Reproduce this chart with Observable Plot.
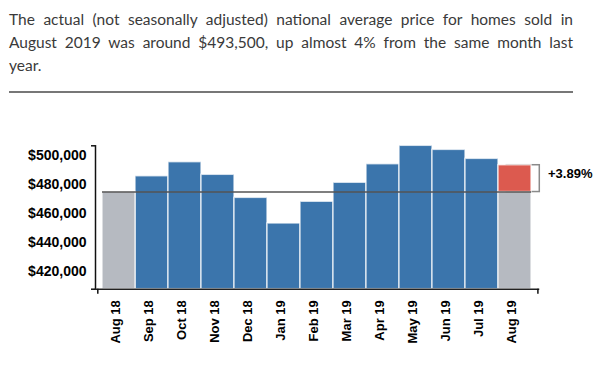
<!DOCTYPE html>
<html>
<head>
<meta charset="utf-8">
<script src="https://cdn.jsdelivr.net/npm/d3@7"></script>
<script src="https://cdn.jsdelivr.net/npm/@observablehq/plot@0.6"></script>
<style>
  html, body { margin: 0; padding: 0; background: #fff; }
  #header { height: 100px; box-sizing: border-box; padding: 8px 0 0 9px; width: 573px; font-family: "Lato", "Noto Sans", sans-serif; font-size: 15.5px; line-height: 23px; color: #3a3a3a; }
  #header .j { text-align: justify; text-align-last: justify; white-space: nowrap; }
  #header hr { border: 0; border-top: 2px solid #777; margin: 14px 0 0 0; }
  #chart svg { display: block; }
</style>
</head>
<body>
<div id="header">
  <div class="j">The actual (not seasonally adjusted) national average price for homes sold in</div>
  <div class="j">August 2019 was around $493,500, up almost 4% from the same month last</div>
  <div>year.</div>
  <hr>
</div>
<div id="chart"></div>
<script>
const months = ["Aug 18", "Sep 18", "Oct 18", "Nov 18", "Dec 18", "Jan 19", "Feb 19", "Mar 19", "Apr 19", "May 19", "Jun 19", "Jul 19", "Aug 19"];
const prices = [475000, 485900, 495600, 486900, 471000, 453300, 468300, 481400, 494200, 506900, 504100, 497900, 493500];
const yTicks = [420000, 440000, 460000, 480000, 500000];

const data = months.map((m, i) => ({month: m, price: prices[i], i}));
const base = prices[0];
const first = data[0];
const last = data[data.length - 1];
const middle = data.slice(1, -1);
const yMin = d3.min(prices) * 0.9;
const yMax = d3.max(prices);
const change = ((last.price / base - 1) * 100).toFixed(2);

const blue = "#3b75ac";
const gray = "#b6bac1";
const red = "#dc5a4f";

const chart = Plot.plot({
  width: 600,
  height: 269,
  marginTop: 45.3,
  marginBottom: 80.3,
  marginLeft: 95,
  marginRight: 62,
  style: {fontFamily: "Liberation Sans, Arial, sans-serif", color: "#000", background: "transparent"},
  x: {type: "band", domain: months, padding: 0, insetLeft: 5.7, insetRight: 6.3, label: null},
  y: {domain: [yMin, yMax], label: null},
  marks: [
    Plot.barY(middle, {x: "month", y1: yMin, y2: "price", fill: blue, stroke: "#fff", strokeOpacity: 0.7, strokeWidth: 1.5}),
    Plot.barY([first, last], {x: "month", y1: yMin, y2: base, fill: gray, stroke: "#fff", strokeOpacity: 0.7, strokeWidth: 1.5}),
    Plot.barY([last], {x: "month", y1: base, y2: "price", fill: "#fff", stroke: "#8a8a8a", strokeWidth: 1.5, dx: 8.3}),
    Plot.barY([last], {x: "month", y1: base, y2: "price", fill: red, stroke: "#fff", strokeOpacity: 0.7, strokeWidth: 1.5}),
    Plot.tickY(data, {x: "month", y: () => base, stroke: "#555", strokeWidth: 1.5}),
    Plot.text([last], {x: "month", y: "price", text: () => `+${change}%`, dx: 33, dy: 9, textAnchor: "start", fontWeight: "bold", fontSize: 13, fill: "#000"}),
    Plot.frame({anchor: "left", stroke: "#111", strokeWidth: 1.5}),
    Plot.frame({anchor: "bottom", stroke: "#222", strokeWidth: 1.5}),
    Plot.axisY({ticks: yTicks, tickSize: 0, tickPadding: 9, tickFormat: d3.format("$,"), fontWeight: "bold", fontSize: 14, fill: "#000", label: null}),
    Plot.axisY({ticks: [yMin, yMax], tickSize: 4, tickFormat: () => "", stroke: "#111", strokeWidth: 1.5, label: null}),
    Plot.axisX({ticks: [months[0]], tickSize: 5, tickFormat: () => "", dx: -21.2, stroke: "#111", strokeWidth: 1.5, label: null}),
    Plot.axisX({ticks: [months[months.length - 1]], tickSize: 5, tickFormat: () => "", dx: 22.9, stroke: "#111", strokeWidth: 1.5, label: null}),
    Plot.axisX({tickRotate: -90, tickSize: 0, tickPadding: 11, fontWeight: "bold", fontSize: 13, fill: "#000", dx: -3, label: null})
  ]
});
document.getElementById("chart").appendChild(chart);
</script>
</body>
</html>
